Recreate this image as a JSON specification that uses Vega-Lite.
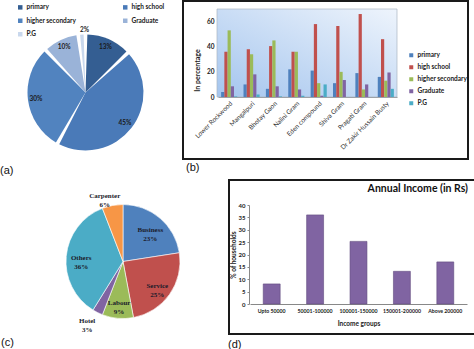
{
  "$schema": "https://vega.github.io/schema/vega-lite/v6.json",
  "padding": {"left": 0, "top": 0, "right": 0, "bottom": 0},
  "background": "white",
  "spacing": 3,
  "resolve": {"scale": {"color": "independent", "theta": "independent", "x": "independent", "y": "independent", "xOffset": "independent"}, "legend": {"color": "independent"}},
  "vconcat": [
    {
      "resolve": {"scale": {"color": "independent", "theta": "independent", "x": "independent", "y": "independent", "xOffset": "independent"}, "legend": {"color": "independent"}},
      "hconcat": [
        {
          "width": 171,
          "height": 163,
          "title": {"text": "(a)", "orient": "bottom", "anchor": "start", "offset": 1},
          "data": {"values": [
            {"level": "primary", "pct": 13},
            {"level": "high school", "pct": 45},
            {"level": "higher secondary", "pct": 30},
            {"level": "Graduate", "pct": 10},
            {"level": "P.G", "pct": 2}
          ]},
          "transform": [
            {"window": [{"op": "row_number", "as": "i"}]},
            {"calculate": "datum.pct + '%'", "as": "label"}
          ],
          "encoding": {
            "theta": {"field": "pct", "type": "quantitative", "stack": true},
            "order": {"field": "i", "type": "quantitative"}
          },
          "layer": [
            {
              "mark": {"type": "arc", "outerRadius": 58, "padAngle": 0.065, "yOffset": 10},
              "encoding": {
                "color": {
                  "field": "level", "type": "nominal",
                  "scale": {"domain": ["primary", "high school", "higher secondary", "Graduate", "P.G"],
                            "range": ["#345e92", "#4a7ab8", "#5183bf", "#9ab3d8", "#c9d8ed"]},
                  "legend": {"orient": "none", "legendX": 17, "legendY": 3, "direction": "horizontal", "columns": 2, "columnPadding": 45,
                             "rowPadding": 6.5, "title": null, "symbolType": "square", "symbolSize": 20,
                             "symbolStrokeWidth": 0, "labelFontSize": 6.5, "labelFontWeight": "bold",
                             "labelColor": "#222", "labelOffset": 3}
                }
              }
            },
            {
              "mark": {"type": "text", "radius": 50, "yOffset": 10, "fontSize": 6.5, "fontWeight": "bold", "color": "#1a1a1a"},
              "encoding": {"text": {"condition": {"test": "datum.level === 'P.G'", "value": ""}, "field": "label", "type": "nominal"}}
            },
            {
              "mark": {"type": "text", "radius": 63, "yOffset": 10, "dx": 3, "fontSize": 6.5, "fontWeight": "bold", "color": "#1a1a1a"},
              "encoding": {"text": {"condition": {"test": "datum.level !== 'P.G'", "value": ""}, "field": "label", "type": "nominal"}}
            }
          ]
        },
        {
          "width": 285,
          "height": 158,
          "title": {"text": "(b)", "orient": "bottom", "anchor": "start", "offset": 3, "dx": 3},
          "resolve": {"scale": {"x": "independent"}},
          "layer": [
            {
              "data": {"values": [{}]},
              "mark": {"type": "rect",
                       "fill": {"gradient": "linear", "x1": 0, "y1": 1, "x2": 1, "y2": 0,
                                "stops": [{"offset": 0, "color": "#a4c5ee"}, {"offset": 1, "color": "#eef4fc"}]},
                       "stroke": "#a9b4c2", "strokeWidth": 0.7},
              "encoding": {
                "x": {"datum": 0, "type": "quantitative", "scale": {"domain": [0, 1], "range": [34, 214]}, "axis": null},
                "x2": {"datum": 1},
                "y": {"datum": 0, "type": "quantitative", "scale": {"domain": [0, 70], "range": [96, 8]}},
                "y2": {"datum": 70}
              }
            },
            {
              "data": {"values": [
                {"place": "Lower Rockwood", "level": "primary", "v": 4},
                {"place": "Lower Rockwood", "level": "high school", "v": 36},
                {"place": "Lower Rockwood", "level": "higher secondary", "v": 53},
                {"place": "Lower Rockwood", "level": "Graduate", "v": 8.5},
                {"place": "Lower Rockwood", "level": "P.G", "v": 0.5},
                {"place": "Mangalpuri", "level": "primary", "v": 10},
                {"place": "Mangalpuri", "level": "high school", "v": 38},
                {"place": "Mangalpuri", "level": "higher secondary", "v": 34},
                {"place": "Mangalpuri", "level": "Graduate", "v": 18},
                {"place": "Mangalpuri", "level": "P.G", "v": 2},
                {"place": "Bhotay Gaon", "level": "primary", "v": 6.5},
                {"place": "Bhotay Gaon", "level": "high school", "v": 40.5},
                {"place": "Bhotay Gaon", "level": "higher secondary", "v": 45},
                {"place": "Bhotay Gaon", "level": "Graduate", "v": 8.5},
                {"place": "Bhotay Gaon", "level": "P.G", "v": 0.5},
                {"place": "Nalini Gram", "level": "primary", "v": 22},
                {"place": "Nalini Gram", "level": "high school", "v": 36},
                {"place": "Nalini Gram", "level": "higher secondary", "v": 36},
                {"place": "Nalini Gram", "level": "Graduate", "v": 6},
                {"place": "Nalini Gram", "level": "P.G", "v": 1},
                {"place": "Eden compound", "level": "primary", "v": 21},
                {"place": "Eden compound", "level": "high school", "v": 58},
                {"place": "Eden compound", "level": "higher secondary", "v": 11},
                {"place": "Eden compound", "level": "Graduate", "v": 1},
                {"place": "Eden compound", "level": "P.G", "v": 10},
                {"place": "Shiva Gram", "level": "primary", "v": 11},
                {"place": "Shiva Gram", "level": "high school", "v": 56.5},
                {"place": "Shiva Gram", "level": "higher secondary", "v": 20},
                {"place": "Shiva Gram", "level": "Graduate", "v": 13.5},
                {"place": "Shiva Gram", "level": "P.G", "v": 0},
                {"place": "Pragati Gram", "level": "primary", "v": 19},
                {"place": "Pragati Gram", "level": "high school", "v": 66},
                {"place": "Pragati Gram", "level": "higher secondary", "v": 6},
                {"place": "Pragati Gram", "level": "Graduate", "v": 10},
                {"place": "Pragati Gram", "level": "P.G", "v": 0},
                {"place": "Dr Zakir Hussain Busty", "level": "primary", "v": 16},
                {"place": "Dr Zakir Hussain Busty", "level": "high school", "v": 46},
                {"place": "Dr Zakir Hussain Busty", "level": "higher secondary", "v": 13},
                {"place": "Dr Zakir Hussain Busty", "level": "Graduate", "v": 19.5},
                {"place": "Dr Zakir Hussain Busty", "level": "P.G", "v": 6.5}
              ]},
              "mark": {"type": "bar"},
              "encoding": {
                "x": {"field": "place", "type": "nominal", "sort": null,
                      "scale": {"range": [35, 214], "paddingInner": 0.28, "paddingOuter": 0.14},
                      "axis": {"title": null, "labelAngle": -45, "labelFontSize": 6.5, "labelColor": "#333",
                               "ticks": false, "domainColor": "#999", "offset": -62, "labelPadding": 3}},
                "xOffset": {"field": "level", "type": "nominal",
                            "scale": {"domain": ["primary", "high school", "higher secondary", "Graduate", "P.G"], "paddingInner": 0}},
                "y": {"field": "v", "type": "quantitative",
                      "scale": {"domain": [0, 70], "range": [96, 8]},
                      "axis": {"title": "In percentage", "titleFontSize": 7, "titleFontWeight": "bold", "titleColor": "#222",
                               "titlePadding": 5, "titleX": -16.5, "titleY": 69, "minExtent": 0, "maxExtent": 60,
                               "labelFontSize": 6.5, "labelFontWeight": "bold", "labelColor": "#222",
                               "values": [0, 10, 20, 30, 40, 50, 60, 70], "offset": -34, "grid": false,
                               "domain": false, "ticks": false, "labelPadding": 3}},
                "color": {"field": "level", "type": "nominal",
                          "scale": {"domain": ["primary", "high school", "higher secondary", "Graduate", "P.G"],
                                    "range": ["#4f81bd", "#c0504d", "#9bbb59", "#8064a2", "#4bacc6"]},
                          "legend": {"orient": "none", "legendX": 225, "legendY": 51, "title": null,
                                     "symbolType": "square", "symbolSize": 16, "symbolStrokeWidth": 0,
                                     "labelFontSize": 6.5, "labelFontWeight": "bold", "labelColor": "#222",
                                     "rowPadding": 5, "labelOffset": 3}}
              }
            }
          ]
        }
      ],
      "spacing": 11
    },
    {
      "resolve": {"scale": {"color": "independent", "theta": "independent", "x": "independent", "y": "independent"}, "legend": {"color": "independent"}},
      "hconcat": [
        {
          "width": 220,
          "height": 148,
          "title": {"text": "(c)", "orient": "bottom", "anchor": "start", "offset": 4, "dx": 1},
          "data": {"values": [
            {"job": "Business", "pct": 23},
            {"job": "Service", "pct": 25},
            {"job": "Labour", "pct": 9},
            {"job": "Hotel", "pct": 3},
            {"job": "Others", "pct": 36},
            {"job": "Carpenter", "pct": 6}
          ]},
          "transform": [
            {"window": [{"op": "row_number", "as": "i"}]},
            {"calculate": "datum.job + '\\n' + datum.pct + '%'", "as": "label"}
          ],
          "encoding": {
            "theta": {"field": "pct", "type": "quantitative", "stack": true},
            "order": {"field": "i", "type": "quantitative"}
          },
          "layer": [
            {
              "mark": {"type": "arc", "outerRadius": 57, "xOffset": 13, "yOffset": 6, "stroke": "white", "strokeWidth": 0.6},
              "encoding": {
                "color": {"field": "job", "type": "nominal",
                          "scale": {"domain": ["Business", "Service", "Labour", "Hotel", "Others", "Carpenter"],
                                    "range": ["#4f81bd", "#c0504d", "#9bbb59", "#8064a2", "#4bacc6", "#f79646"]},
                          "legend": null}
              }
            },
            {
              "mark": {"type": "text", "radius": 42, "xOffset": 13, "yOffset": 6, "font": "Liberation Serif",
                       "fontWeight": "bold", "fontSize": 7, "lineBreak": "\n", "color": "#1b1b2b"},
              "encoding": {"text": {"condition": {"test": "datum.job === 'Hotel' || datum.job === 'Carpenter'", "value": ""}, "field": "label", "type": "nominal"}}
            },
            {
              "mark": {"type": "text", "radius": 67, "xOffset": 13, "yOffset": 6, "dx": -6, "font": "Liberation Serif",
                       "fontWeight": "bold", "fontSize": 7, "lineBreak": "\n", "color": "#1b1b2b"},
              "encoding": {"text": {"condition": {"test": "datum.job !== 'Hotel' && datum.job !== 'Carpenter'", "value": ""}, "field": "label", "type": "nominal"}}
            }
          ]
        },
        {
          "title": {"text": "(d)", "orient": "bottom", "anchor": "start", "offset": 4},
          "hconcat": [
            {
              "width": 246,
              "height": 154,
              "title": {"text": "Annual Income (in Rs)", "orient": "top", "anchor": "end", "offset": -14, "dx": -7,
                        "font": "Lato", "fontSize": 10.5, "fontWeight": "bold", "color": "#111"},
              "data": {"values": [
                {"group": "Upto 50000", "pct": 8.1},
                {"group": "50001-100000", "pct": 36},
                {"group": "100001-150000", "pct": 25.3},
                {"group": "150001-200000", "pct": 13.2},
                {"group": "Above 200000", "pct": 17}
              ]},
              "mark": {"type": "bar", "color": "#8064a2", "stroke": "#5f4a7e", "strokeWidth": 0.6},
              "encoding": {
                "x": {"field": "group", "type": "nominal", "sort": null,
                      "scale": {"range": [21, 238], "paddingInner": 0.61, "paddingOuter": 0.305},
                      "axis": {"title": "Income groups", "titleFontSize": 6.5, "titleFontWeight": "bold", "titleColor": "#222",
                               "labelAngle": 0, "labelFontSize": 5.2, "labelFontWeight": "bold", "labelColor": "#222",
                               "ticks": false, "offset": -30, "domainColor": "#888", "labelPadding": 4, "titlePadding": 7}},
                "y": {"field": "pct", "type": "quantitative",
                      "scale": {"domain": [0, 40], "range": [124, 25]},
                      "axis": {"title": "% of households", "values": [0, 5, 10, 15, 20, 25, 30, 35, 40], "grid": false,
                               "offset": -20, "minExtent": 0, "maxExtent": 60, "domainColor": "#888", "tickColor": "#888", "tickSize": 2,
                               "labelFontSize": 6, "labelFontWeight": "bold", "labelColor": "#222",
                               "titleFontSize": 6.5, "titleFontWeight": "bold", "titleColor": "#222", "titlePadding": 2,
                               "titleX": -13, "labelPadding": 2}}
              }
            }
          ]
        }
      ],
      "spacing": 8,
      "center": true
    }
  ],
  "config": {
    "font": "Lato",
    "view": {"stroke": "#1a1a1a", "strokeWidth": 2},
    "title": {"font": "Liberation Sans", "fontSize": 11, "fontWeight": "normal", "color": "#111"},
    "axis": {"labelFont": "Lato", "titleFont": "Lato", "minExtent": 0},
    "axisX": {"minExtent": 0},
    "axisY": {"minExtent": 0},
    "legend": {"labelFont": "Lato"}
  }
}
